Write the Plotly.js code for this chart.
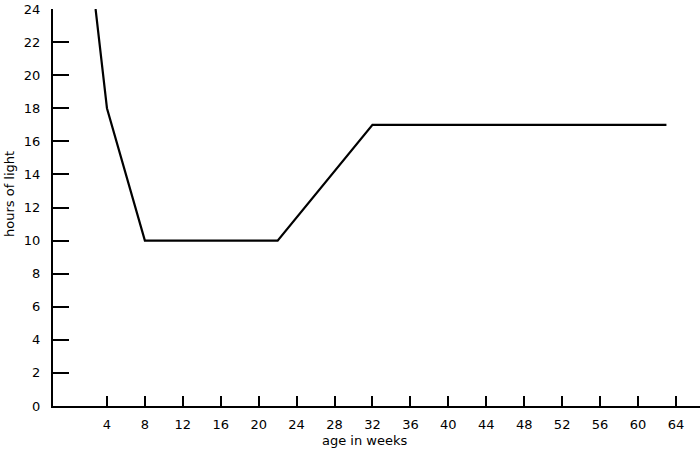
<!DOCTYPE html>
<html>
<head>
<meta charset="utf-8">
<script src="https://cdn.plot.ly/plotly-3.0.1.min.js"></script>
<style>html,body{margin:0;padding:0;background:#fff;}#chart{width:700px;height:453px;}</style>
</head>
<body>
<div id="chart"></div>
<script>
var ageWeeks = [2.8, 4, 8, 22, 32, 63];
var hoursLight = [24, 18, 10, 10, 17, 17];
var xTicks = [4, 8, 12, 16, 20, 24, 28, 32, 36, 40, 44, 48, 52, 56, 60, 64];
var yTicks = [0, 2, 4, 6, 8, 10, 12, 14, 16, 18, 20, 22, 24];
var xTitle = 'age in weeks';
var yTitle = 'hours of light';

var font = {family: 'DejaVu Sans, Verdana, sans-serif', size: 13, color: '#000'};

Plotly.newPlot('chart', [{
  x: ageWeeks, y: hoursLight, type: 'scatter', mode: 'lines',
  line: {color: '#000', width: 2.2}, hoverinfo: 'none'
}], {
  width: 700, height: 453,
  margin: {l: 53, r: 0, t: 9, b: 47},
  paper_bgcolor: '#fff', plot_bgcolor: '#fff',
  showlegend: false,
  font: font,
  xaxis: {
    range: [-1.69, 66.54], tickvals: xTicks, ticktext: xTicks.map(String),
    ticks: 'inside', ticklen: 10, tickwidth: 2, tickcolor: '#000',
    showline: true, linewidth: 2, linecolor: '#000', showgrid: false, zeroline: false,
    tickfont: font, ticklabelstandoff: 5
  },
  yaxis: {
    range: [0, 24], tickvals: yTicks, ticktext: yTicks.map(String),
    ticks: 'inside', ticklen: 16, tickwidth: 2, tickcolor: '#000',
    showline: true, linewidth: 2, linecolor: '#000', showgrid: false, zeroline: false,
    tickfont: font, ticklabelstandoff: 8
  },
  annotations: [
    {text: xTitle, xref: 'paper', yref: 'paper', x: 0.482, y: -0.088,
     xanchor: 'center', yanchor: 'middle', showarrow: false, font: font},
    {text: yTitle, xref: 'paper', yref: 'paper', x: -0.068, y: 0.534, textangle: -90,
     xanchor: 'center', yanchor: 'middle', showarrow: false, font: font}
  ]
}, {staticPlot: true});
</script>
</body>
</html>
